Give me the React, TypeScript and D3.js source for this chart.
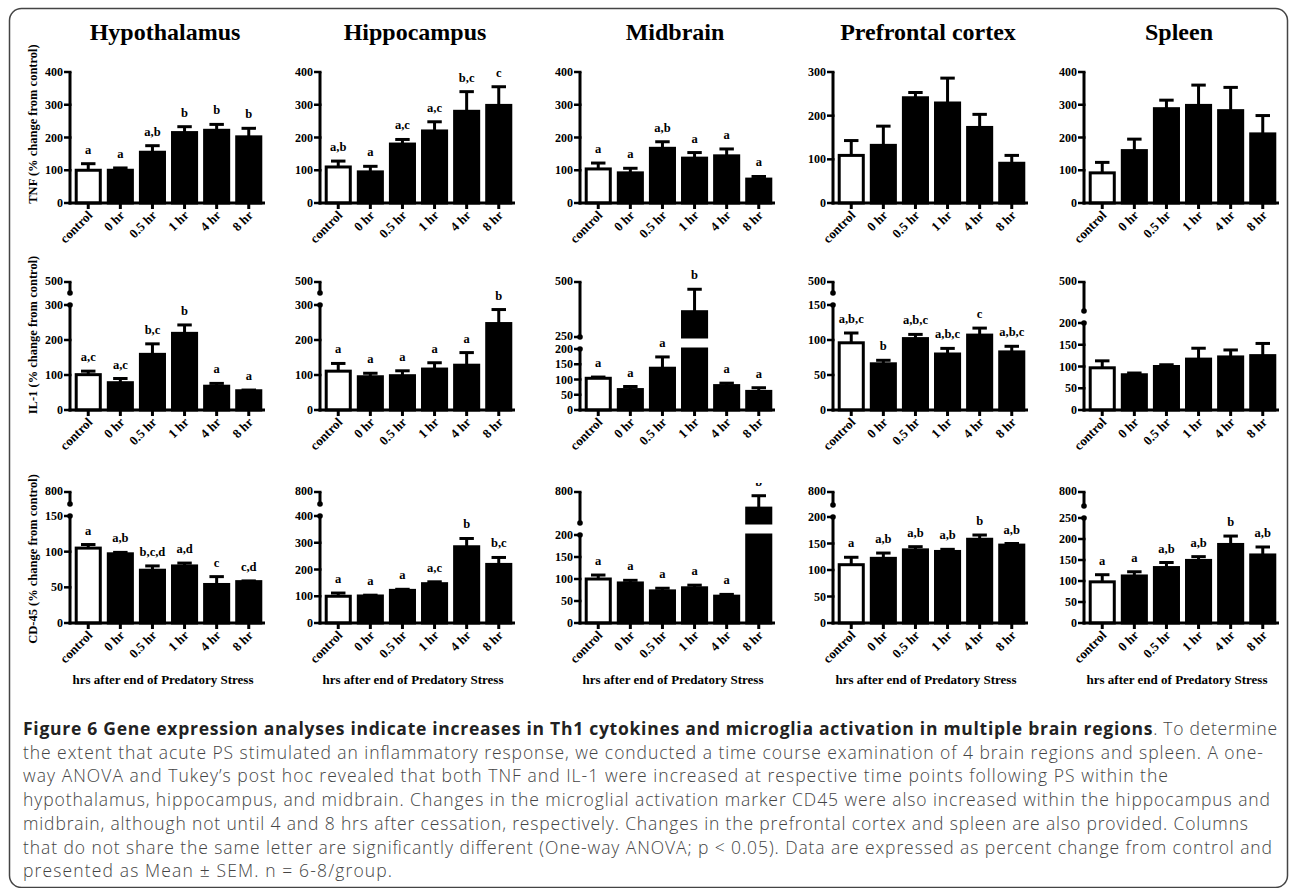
import * as d3 from "d3";

const timepoints = ["control", "0 hr", "0.5 hr", "1 hr", "4 hr", "8 hr"];
const regions = ["Hypothalamus", "Hippocampus", "Midbrain", "Prefrontal cortex", "Spleen"];
const yTitles = ["TNF (% change from control)", "IL-1 (% change from control)", "CD-45 (% change from control)"];
const xTitle = "hrs after end of Predatory Stress";

// TNF, one row per region (mean, SEM)
const tnfMean = [
  [100, 100, 155, 215, 222, 202],
  [110, 95, 180, 220, 280, 298],
  [104, 92, 167, 137, 144, 73],
  [109, 132, 241, 229, 173, 91],
  [92, 160, 288, 298, 282, 211],
];
const tnfSem = [
  [20, 7, 20, 18, 18, 26],
  [18, 17, 14, 28, 60, 57],
  [18, 14, 20, 17, 21, 8],
  [34, 44, 12, 57, 30, 18],
  [32, 35, 26, 62, 71, 56],
];
const tnfLetters = [
  ["a", "a", "a,b", "b", "b", "b"],
  ["a,b", "a", "a,c", "a,c", "b,c", "c"],
  ["a", "a", "a,b", "a", "a", "a"],
  [],
  [],
];
const tnfTicks = [
  [0, 100, 200, 300, 400],
  [0, 100, 200, 300, 400],
  [0, 100, 200, 300, 400],
  [0, 100, 200, 300],
  [0, 100, 200, 300, 400],
];

// IL-1
const il1Mean = [
  [101, 78, 159, 219, 68, 55],
  [111, 95, 98, 117, 128, 247],
  [104, 67, 137, 365, 80, 61],
  [96, 66, 102, 80, 107, 83],
  [97, 81, 100, 117, 122, 125],
];
const il1Sem = [
  [10, 12, 30, 24, 8, 2],
  [22, 10, 14, 18, 36, 40],
  [4, 10, 37, 102, 8, 12],
  [14, 5, 6, 8, 10, 8],
  [16, 4, 4, 25, 16, 28],
];
const il1Letters = [
  ["a,c", "a,c", "b,c", "b", "a", "a"],
  ["a", "a", "a", "a", "a", "b"],
  ["a", "a", "a", "b", "a", "a"],
  ["a,b,c", "b", "a,b,c", "a,b,c", "c", "a,b,c"],
  [],
];
const il1Ticks = [
  [0, 100, 200, 300],
  [0, 100, 200, 300],
  [0, 50, 100, 150, 200],
  [0, 50, 100, 150],
  [0, 50, 100, 150, 200],
];
const il1UpperTicks = [[500], [500], [250, 500], [500], [500]];
const il1UpperRange = [[450, 500], [450, 500], [250, 500], [450, 500], [350, 500]];

// CD-45
const cd45Mean = [
  [105, 97, 74, 80, 54, 58],
  [100, 101, 122, 147, 285, 219],
  [100, 91, 73, 80, 61, 540],
  [110, 122, 138, 135, 158, 147],
  [98, 112, 132, 149, 187, 162],
];
const cd45Sem = [
  [5, 2, 6, 4, 11, 1],
  [12, 3, 4, 7, 31, 26],
  [9, 6, 6, 6, 4, 200],
  [14, 10, 6, 4, 8, 3],
  [17, 10, 12, 9, 20, 19],
];
const cd45Letters = [
  ["a", "a,b", "b,c,d", "a,d", "c", "c,d"],
  ["a", "a", "a", "a,c", "b", "b,c"],
  ["a", "a", "a", "a", "a", "b"],
  ["a", "a,b", "a,b", "a,b", "b", "a,b"],
  ["a", "a", "a,b", "a,b", "b", "a,b"],
];
const cd45Ticks = [
  [0, 50, 100, 150],
  [0, 100, 200, 300, 400],
  [0, 50, 100, 150, 200],
  [0, 50, 100, 150, 200],
  [0, 50, 100, 150, 200, 250],
];
const cd45UpperTicks = [[800], [800], [800], [800], [800]];
const cd45UpperRange = [[750, 800], [750, 800], [300, 800], [750, 800], [750, 800]];

const captionBold = "Figure 6 Gene expression analyses indicate increases in Th1 cytokines and microglia activation in multiple brain regions";
const captionLines = [
  ". To determine",
  "the extent that acute PS stimulated an inflammatory response, we conducted a time course examination of 4 brain regions and spleen. A one-",
  "way ANOVA and Tukey\u2019s post hoc revealed that both TNF and IL-1 were increased at respective time points following PS within the",
  "hypothalamus, hippocampus, and midbrain. Changes in the microglial activation marker CD45 were also increased within the hippocampus and",
  "midbrain, although not until 4 and 8 hrs after cessation, respectively. Changes in the prefrontal cortex and spleen are also provided. Columns",
  "that do not share the same letter are significantly different (One-way ANOVA; p < 0.05). Data are expressed as percent change from control and",
  "presented as Mean \u00b1 SEM. n = 6-8/group.",
];

const rows = [
  { mean: tnfMean, sem: tnfSem, letters: tnfLetters, ticks: tnfTicks, upTicks: null, upRange: null },
  { mean: il1Mean, sem: il1Sem, letters: il1Letters, ticks: il1Ticks, upTicks: il1UpperTicks, upRange: il1UpperRange },
  { mean: cd45Mean, sem: cd45Sem, letters: cd45Letters, ticks: cd45Ticks, upTicks: cd45UpperTicks, upRange: cd45UpperRange },
];

// layout
const colX = [70, 320, 580, 833, 1084];
const axisLen = 195;
const rowTop = [72, 282, 492];
const rowZero = [203, 410, 623];
const upperLen = [
  [0, 0, 0, 0, 0],
  [11, 11, 55, 11, 29],
  [12, 12, 31, 13, 14],
];
const breakGap = 12;
const captionWidths = [1254, 1240, 1145, 1247, 1225, 1249, 369];

const serif = "'Liberation Serif', 'Times New Roman', serif";

function Panel({ r, c }: { r: number; c: number }) {
  const s = rows[r];
  const x0 = colX[c];
  const x1 = x0 + axisLen;
  const top = rowTop[r];
  const zero = rowZero[r];
  const up = upperLen[r][c];
  const lowerTop = up ? top + up + breakGap : top;
  const lowTicks = s.ticks[c];
  const lowMax = d3.max(lowTicks) as number;
  const yLow = d3.scaleLinear().domain([0, lowMax]).range([zero, lowerTop]);
  const yUp = up && s.upRange ? d3.scaleLinear().domain(s.upRange[c]).range([top + up, top]) : null;
  const yOf = (v: number) => (v <= lowMax || !yUp ? yLow(v) : yUp(Math.min(v, yUp.domain()[1])));
  const x = d3
    .scaleBand()
    .domain(timepoints)
    .range([x0 + 3, x1 - 1])
    .paddingInner(0.25)
    .paddingOuter(0.1);
  const bw = x.bandwidth();
  const capW = bw * 0.6;

  return (
    <g>
      {/* bars */}
      {timepoints.map((t, i) => {
        const v = s.mean[c][i];
        const bx = x(t) as number;
        const fill = i === 0 ? "#fff" : "#000";
        const lowV = Math.min(v, lowMax);
        return (
          <g key={t}>
            <rect x={bx} y={yLow(lowV)} width={bw} height={zero - yLow(lowV)} fill={fill} stroke="#000" strokeWidth={3} />
            {v > lowMax && yUp && (
              <rect
                x={bx}
                y={yUp(v)}
                width={bw}
                height={yUp(yUp.domain()[0]) - yUp(v)}
                fill={fill}
                stroke="#000"
                strokeWidth={3}
              />
            )}
          </g>
        );
      })}
      {/* error bars */}
      {timepoints.map((t, i) => {
        const v = s.mean[c][i];
        const e = v + s.sem[c][i];
        const cx = (x(t) as number) + bw / 2;
        return (
          <g key={t} stroke="#000" strokeWidth={3}>
            <line x1={cx} x2={cx} y1={yOf(v)} y2={yOf(e)} />
            <line x1={cx - capW / 2} x2={cx + capW / 2} y1={yOf(e)} y2={yOf(e)} />
          </g>
        );
      })}
      {/* significance letters */}
      <g clipPath={r === 2 ? "url(#row3clip)" : undefined}>
        {(s.letters[c] || []).map((l, i) => {
          const t = timepoints[i];
          const e = s.mean[c][i] + s.sem[c][i];
          return (
            <text
              key={t}
              x={(x(t) as number) + bw / 2}
              y={yOf(e) - 10}
              textAnchor="middle"
              fontFamily={serif}
              fontWeight="bold"
              fontSize={12.5}
            >
              {l}
            </text>
          );
        })}
      </g>
      {/* y axis (lower segment) */}
      <line x1={x0} x2={x0} y1={zero + 1.5} y2={lowerTop} stroke="#000" strokeWidth={3} />
      {lowTicks.map((t) => (
        <g key={t}>
          <line x1={x0 - 6} x2={x0 + 1.5} y1={yLow(t)} y2={yLow(t)} stroke="#000" strokeWidth={2.5} />
          <text x={x0 - 7} y={yLow(t) + 4} textAnchor="end" fontFamily={serif} fontWeight="bold" fontSize={12}>
            {t}
          </text>
        </g>
      ))}
      {/* y axis (upper segment of a broken axis) */}
      {yUp && s.upTicks && (
        <g>
          <line x1={x0} x2={x0} y1={top} y2={top + up} stroke="#000" strokeWidth={3} />
          <circle cx={x0} cy={top + up} r={2.8} fill="#000" />
          <circle cx={x0} cy={lowerTop} r={2.8} fill="#000" />
          {s.upTicks[c].map((t) => (
            <g key={t}>
              <line x1={x0 - 6} x2={x0 + 1.5} y1={yUp(t)} y2={yUp(t)} stroke="#000" strokeWidth={2.5} />
              <text x={x0 - 7} y={yUp(t) + 3} textAnchor="end" fontFamily={serif} fontWeight="bold" fontSize={12}>
                {t}
              </text>
            </g>
          ))}
        </g>
      )}
      {/* x axis */}
      <line x1={x0 - 1.5} x2={x1} y1={zero} y2={zero} stroke="#000" strokeWidth={3} />
      {timepoints.map((t) => {
        const cx = (x(t) as number) + bw / 2;
        return (
          <g key={t}>
            <line x1={cx} x2={cx} y1={zero} y2={zero + 6} stroke="#000" strokeWidth={3} />
            <text
              transform={`translate(${cx + 5},${zero + 13}) rotate(-45)`}
              textAnchor="end"
              fontFamily={serif}
              fontWeight="bold"
              fontSize={13}
            >
              {t}
            </text>
          </g>
        );
      })}
    </g>
  );
}

export default function App() {
  return (
    <svg
      width={1290}
      height={888}
      style={{ position: "absolute", left: 0, top: 0, background: "#fff" }}
    >
      <defs>
        <clipPath id="row3clip">
          <rect x={0} y={483} width={1290} height={400} />
        </clipPath>
      </defs>
      <rect x={9.5} y={8.5} width={1278} height={879} rx={12} fill="none" stroke="#444" strokeWidth={1.5} />

      {regions.map((name, c) => (
        <text
          key={name}
          x={colX[c] + 95}
          y={40}
          textAnchor="middle"
          fontFamily={serif}
          fontWeight="bold"
          fontSize={24}
        >
          {name}
        </text>
      ))}

      {yTitles.map((t, r) => (
        <text
          key={t}
          transform={`translate(37,${[124, 335, 559][r]}) rotate(-90)`}
          textAnchor="middle"
          fontFamily={serif}
          fontWeight="bold"
          fontSize={12.5}
        >
          {t}
        </text>
      ))}

      {rows.map((_, r) => regions.map((_, c) => <Panel key={`${r}-${c}`} r={r} c={c} />))}

      {regions.map((name, c) => (
        <text
          key={name}
          x={colX[c] + 93}
          y={684}
          textAnchor="middle"
          fontFamily={serif}
          fontWeight="bold"
          fontSize={13}
        >
          {xTitle}
        </text>
      ))}

      {captionLines.map((line, i) => (
        <text
          key={i}
          x={23}
          y={735 + i * 23.7}
          fontFamily="'Open Sans', sans-serif"
          fontWeight={300}
          fontSize={17.5}
          fill="#444"
          textLength={captionWidths[i]}
          lengthAdjust="spacing"
        >
          {i === 0 && (
            <tspan fontWeight="bold" fill="#222">
              {captionBold}
            </tspan>
          )}
          {i === 0 ? <tspan>{line}</tspan> : line}
        </text>
      ))}
    </svg>
  );
}
